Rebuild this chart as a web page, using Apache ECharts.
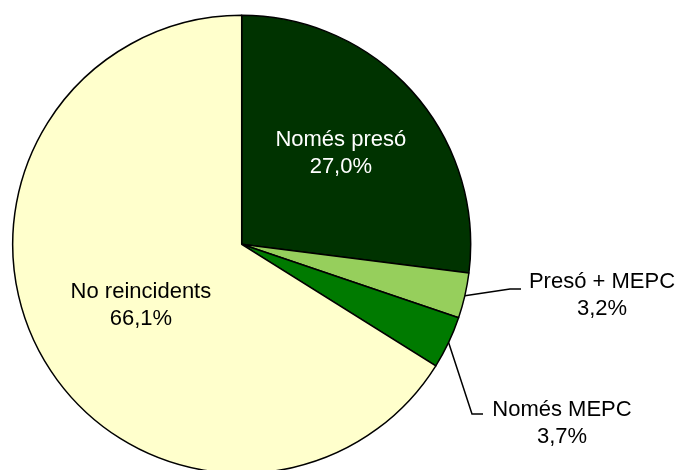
<!DOCTYPE html>
<html>
<head>
<meta charset="utf-8">
<script src="https://cdn.jsdelivr.net/npm/echarts@6/dist/echarts.min.js"></script>
<style>
  html, body { margin: 0; padding: 0; background: #fff; }
  #chart { width: 683px; height: 470px; }
</style>
</head>
<body>
<div id="chart"></div>
<script>
const categories = ["Només presó", "Presó + MEPC", "Només MEPC", "No reincidents"];
const shares = [27.0, 3.2, 3.7, 66.1];
const sliceColors = ["#003300", "#96CF5C", "#007A00", "#FFFFCC"];

// label placement, by category (inside labels nudge, outside labels put beside the pie)
const labelPlacement = {
  "Només presó": { inside: true, dx: 11, dy: -13, color: "#fff" },
  "No reincidents": { inside: true, dx: 2, dy: 4, color: "#000" },
  "Presó + MEPC": { x: 602, y: 295, elbow: [510, 289], end: [521, 289] },
  "Només MEPC": { x: 562, y: 423, elbow: [472, 414], end: [483, 414] },
};

function pct(v) {
  return v.toFixed(1).replace(".", ",") + "%";
}

const chart = echarts.init(document.getElementById("chart"), null, { renderer: "canvas" });

chart.setOption({
  animation: false,
  series: [{
    type: "pie",
    center: [241.7, 244.3],
    radius: 229,
    startAngle: 90,
    clockwise: true,
    avoidLabelOverlap: false,
    itemStyle: { borderColor: "#000", borderWidth: 1.5 },
    emphasis: { disabled: true },
    label: {
      fontFamily: "Liberation Sans, Arial, sans-serif",
      fontSize: 22,
      lineHeight: 27,
      color: "#000",
      align: "center",
      formatter: (p) => `${p.name}\n${pct(p.value)}`,
    },
    labelLine: { show: true, smooth: false, length: 10, length2: 10, lineStyle: { color: "#000", width: 1.5 } },
    data: categories.map((name, i) => {
      const place = labelPlacement[name];
      return {
        name,
        value: shares[i],
        itemStyle: { color: sliceColors[i] },
        label: place.inside
          ? { position: "inside", color: place.color }
          : { position: "outside" },
        labelLine: { show: !place.inside },
      };
    }),
    labelLayout: (params) => {
      const place = labelPlacement[categories[params.dataIndex]];
      if (place.inside) return { dx: place.dx, dy: place.dy };
      const start = params.labelLinePoints ? params.labelLinePoints[0] : place.elbow;
      return {
        x: place.x,
        y: place.y,
        align: "center",
        verticalAlign: "middle",
        labelLinePoints: [start, place.elbow, place.end],
      };
    },
  }],
});
</script>
</body>
</html>
